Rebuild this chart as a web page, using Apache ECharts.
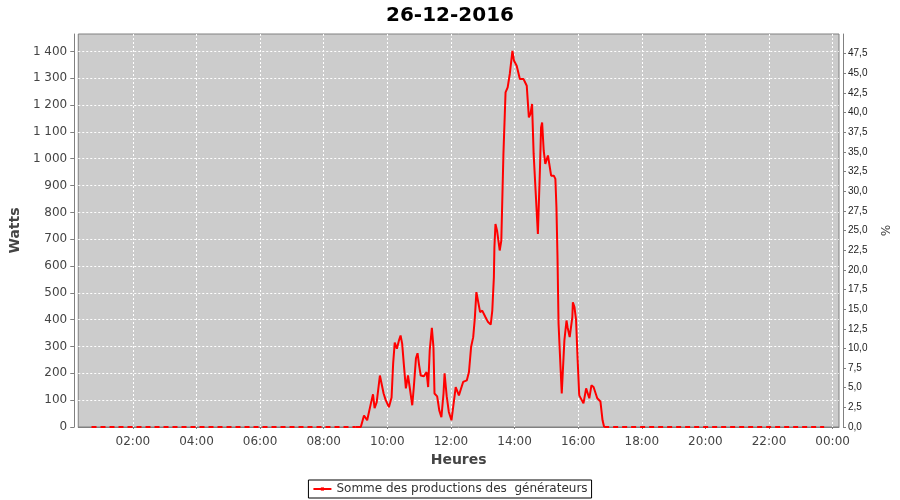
<!DOCTYPE html>
<html>
<head>
<meta charset="utf-8">
<script src="https://cdn.jsdelivr.net/npm/echarts@6/dist/echarts.min.js"></script>
<style>html,body{margin:0;padding:0;background:#fff}#c{width:900px;height:500px}</style>
</head>
<body>
<div id="c"></div>
<script>
// ---- data ----
const title = '26-12-2016';
const seriesName = 'Somme des productions des  générateurs';
const times = [
 '09:00','09:10',
 '09:16','09:22','09:29','09:33','09:36','09:40','09:46','09:49','09:53','09:57',
 '10:03','10:08','10:11','10:14','10:18','10:22','10:25','10:28','10:31','10:35',
 '10:39','10:43','10:47','10:50','10:54','10:57','11:00','11:03','11:09','11:14',
 '11:17','11:20','11:24','11:27','11:29','11:34','11:38','11:42','11:46','11:48',
 '11:52','11:56','12:01','12:03','12:09','12:15','12:23','12:30','12:34','12:38',
 '12:42','12:45','12:48','12:51','12:55','12:59','13:05','13:10','13:15','13:18',
 '13:21','13:22','13:24','13:27','13:32','13:35','13:39','13:43','13:47','13:51',
 '13:56','13:59','14:04','14:10','14:17','14:23','14:27','14:30','14:33','14:36',
 '14:44','14:48','14:50','14:52','14:55','14:58','15:03','15:09','15:14','15:17',
 '15:19','15:21','15:23','15:27','15:29','15:31','15:34','15:38','15:40','15:44',
 '15:49','15:50','15:53','15:56','15:59','16:02','16:10','16:15','16:21','16:25',
 '16:29','16:36','16:42','16:46','16:49'
];
const watts = [
 0,0,
 43,25,88,122,70,93,192,186,125,100,
 74,110,237,315,292,323,341,311,237,144,
 192,137,81,149,256,275,230,192,189,205,
 149,286,370,298,125,114,62,37,125,200,
 115,56,25,19,149,118,168,174,205,298,
 335,404,503,497,428,434,410,391,382,434,
 558,670,757,732,658,695,1018,1247,1266,1316,
 1402,1365,1347,1297,1297,1272,1154,1167,1204,1018,
 720,968,1117,1135,1030,981,1012,937,937,925,
 819,633,385,210,125,125,323,397,372,335,
 410,465,447,400,250,118,88,144,107,155,
 149,107,95,25,0
];
// night readings (near zero, drawn sparsely in the reference)
const nightTimesAM = ['00:42','09:00'];
const nightWattsAM = [0,0];
const nightTimesPM = ['16:49','23:44'];
const nightWattsPM = [0,0];
const xTicks = [120,240,360,480,600,720,840,960,1080,1200,1320,1440];
const wattTicks = [0,100,200,300,400,500,600,700,800,900,1000,1100,1200,1300,1400];
const pctTicks = [0,2.5,5,7.5,10,12.5,15,17.5,20,22.5,25,27.5,30,32.5,35,37.5,40,42.5,45,47.5];

// ---- build ----
function toMin(s){const p=s.split(':');return (+p[0])*60+(+p[1]);}
const data = times.map((t,i)=>[toMin(t), watts[i]]);
const nightData = nightTimesAM.map((t,i)=>[toMin(t), nightWattsAM[i]])
  .concat([[null,null]])
  .concat(nightTimesPM.map((t,i)=>[toMin(t), nightWattsPM[i]]));
function hhmm(v){const m=((v%1440)+1440)%1440;const h=Math.floor(m/60),mm=m%60;return (h<10?'0':'')+h+':'+(mm<10?'0':'')+mm;}
function fmtW(v){if(v>=1000){const r=v%1000;return Math.floor(v/1000)+' '+String(r).padStart(3,'0');}return String(v);}

const font='DejaVu Sans';
const chart = echarts.init(document.getElementById('c'), null, {renderer:'canvas'});
chart.setOption({
  animation:false,
  backgroundColor:'#ffffff',
  title:{text:title,left:'center',top:1,textStyle:{fontFamily:font,fontSize:20,fontWeight:'bold',color:'#000'}},
  grid:{left:77,right:61,top:34,bottom:73,show:true,backgroundColor:'#cccccc',borderColor:'#808080',borderWidth:1,containLabel:false},
  legend:{bottom:2,left:'center',data:[seriesName],borderColor:'#000',borderWidth:1,borderRadius:0,padding:[3,4],
    itemWidth:18,itemHeight:4,itemGap:2,textStyle:{fontFamily:font,fontSize:12,color:'#333'}},
  xAxis:{type:'value',min:17,max:1452,offset:4,
    name:'Heures',nameLocation:'middle',nameGap:21,nameTextStyle:{fontFamily:font,fontSize:14,fontWeight:'bold',color:'#444'},
    axisLine:{show:true,lineStyle:{color:'#808080'}},
    axisTick:{show:true,length:2,customValues:xTicks,lineStyle:{color:'#808080'}},
    axisLabel:{customValues:xTicks,formatter:hhmm,margin:5,fontFamily:font,fontSize:12,color:'#444'},
    splitLine:{show:true,lineStyle:{color:'#ffffff',type:[2,2],width:1}}
  },
  yAxis:[
    {type:'value',min:0,max:1465,offset:4,position:'left',
     name:'Watts',nameLocation:'middle',nameGap:46,nameTextStyle:{fontFamily:font,fontSize:14,fontWeight:'bold',color:'#444'},
     axisLine:{show:true,lineStyle:{color:'#808080'}},
     axisTick:{show:true,length:4,customValues:wattTicks,lineStyle:{color:'#808080'}},
     axisLabel:{customValues:wattTicks,formatter:fmtW,margin:7,fontFamily:font,fontSize:12,color:'#444'},
     splitLine:{show:true,lineStyle:{color:'#ffffff',type:[2,2],width:1}}
    },
    {type:'value',min:0,max:50,offset:4,position:'right',
     name:'%',nameLocation:'middle',nameGap:32,nameRotate:-90,nameTextStyle:{fontFamily:font,fontSize:12,color:'#444'},
     axisLine:{show:true,lineStyle:{color:'#808080'}},
     axisTick:{show:true,length:3,customValues:pctTicks,lineStyle:{color:'#808080'}},
     axisLabel:{customValues:pctTicks,formatter:v=>v.toFixed(1).replace('.',','),margin:5,fontFamily:"'Liberation Sans Narrow','Liberation Sans'",fontSize:10,color:'#222'},
     splitLine:{show:false}
    }
  ],
  series:[
   {name:seriesName,type:'line',data:data,yAxisIndex:0,
    showSymbol:false,symbol:'rect',symbolSize:4,
    lineStyle:{color:'#ff0000',width:2},itemStyle:{color:'#ff0000'}},
   {name:'nuit',type:'line',data:nightData,yAxisIndex:0,connectNulls:false,
    showSymbol:false,silent:true,
    lineStyle:{color:'#ff0000',width:2,type:[5,4]},itemStyle:{color:'#ff0000'}}
  ]
});
</script>
</body>
</html>
